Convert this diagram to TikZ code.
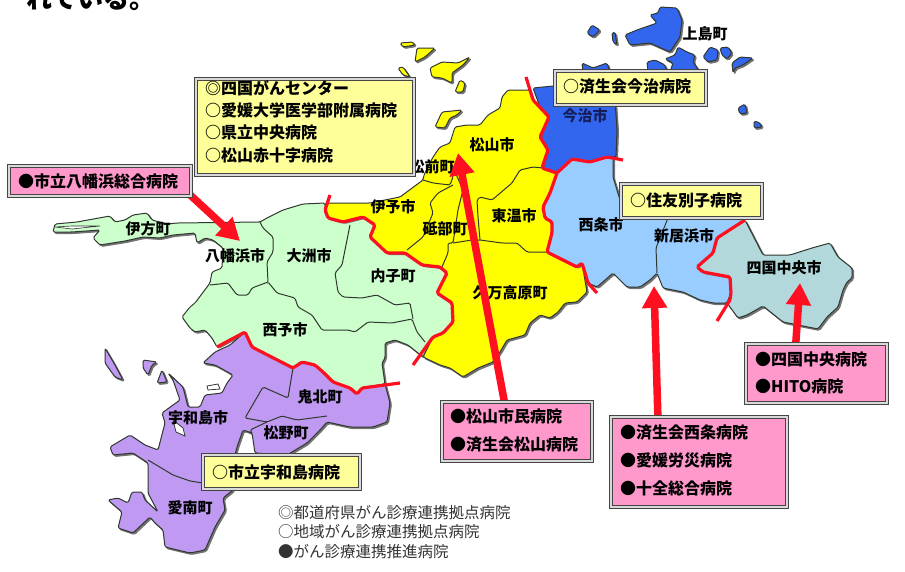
\documentclass[tikz,border=0pt]{standalone}
\usepackage{fontspec}
\setmainfont{Noto Sans CJK JP}
\usetikzlibrary{arrows.meta,calc}
\pgfdeclarelayer{mapl}\pgfdeclarelayer{arrowl}
\pgfsetlayers{mapl,arrowl,main}
\definecolor{cgreen}{HTML}{CCFFCC}
\definecolor{cyellow}{HTML}{FFFF00}
\definecolor{cblue}{HTML}{3366EE}
\definecolor{clight}{HTML}{99CCFF}
\definecolor{cteal}{HTML}{B2D8DC}
\definecolor{cpurple}{HTML}{BF99F2}
\definecolor{cpink}{HTML}{FF99CC}
\definecolor{cbox}{HTML}{FFFF99}
\definecolor{cred}{HTML}{FF1020}
\definecolor{cframe}{HTML}{454545}
\definecolor{cline}{HTML}{303830}
\tikzset{
  x=1pt,y=-1pt,
  land/.style={fill=#1,draw=cline,line width=1pt,line join=round,rounded corners=1.5pt},
  shade/.style={fill=black!55,draw=black!55,line width=1pt,shift={(1.5,1.5)},rounded corners=1.5pt},
  inner/.style={draw=cline,line width=1pt,line join=round,rounded corners=1.5pt},
  redline/.style={draw=cred,line width=3.2pt,line join=round,line cap=butt,rounded corners=1.5pt},
  hole/.style={fill=white,draw=cline,line width=.8pt},
  place/.style={font=\bfseries\fontsize{15}{15}\selectfont,inner sep=0pt},
  frame/.style={fill=#1,draw=cframe,line width=1.5pt,double=white!85!black,double distance=1.3pt,inner sep=0pt},
  boxtext/.style={anchor=west,align=left,inner sep=0pt,font=\bfseries\fontsize{16}{#1}\selectfont},
  legendtext/.style={anchor=west,inner sep=0pt,font=\fontsize{15.5}{15.5}\selectfont,text=black!80},
  callout/.style={cred,line width=7.5pt,-{Triangle[width=24pt,length=22pt]}},
}
\def\pgreen{(53,232) -- (55,224) -- (77,222) -- (110,216) -- (115,222) -- (125,220) -- (133,215) -- (147,213) -- (152,220) -- (167,224) -- (177,223) -- (260,222) -- (267,218) -- (283,210) -- (303,204) -- (325,203) -- (325,210) -- (328,218) -- (343,222) -- (363,217) -- (375,225) -- (370,237) -- (387,253) -- (405,253) -- (422,265) -- (440,267) -- (447,273) -- (437,293) -- (452,303) -- (453,322) -- (443,333) -- (433,337) -- (423,357) -- (408,345) -- (395,340) -- (385,343) -- (385,358) -- (382,363) -- (385,384) -- (362,388) -- (357,394) -- (350,388) -- (333,382) -- (323,372) -- (315,365) -- (302,362) -- (293,368) -- (252,347) -- (245,332) -- (217,347) -- (212,338) -- (205,330) -- (195,332) -- (190,328) -- (182,317) -- (190,307) -- (195,303) -- (210,283) -- (212,272) -- (222,268) -- (223,248) -- (213,240) -- (205,238) -- (197,243) -- (195,233) -- (173,235) -- (160,238) -- (143,237) -- (125,241) -- (100,245) -- (93,238) -- (100,230) -- (72,232) -- cycle}
\def\pyellow{(325,203) -- (370,203) -- (400,197) -- (423,180) -- (424,175) -- (433,157) -- (440,147) -- (450,143) -- (455,127) -- (467,125) -- (480,125) -- (488,115) -- (500,108) -- (502,97) -- (508,90) -- (530,90) -- (533,100) -- (549,117) -- (540,137) -- (548,150) -- (542,168) -- (557,173) -- (550,193) -- (543,207) -- (545,218) -- (552,222) -- (552,233) -- (547,252) -- (577,267) -- (582,263) -- (587,292) -- (577,302) -- (565,303) -- (558,312) -- (550,318) -- (540,315) -- (530,323) -- (525,335) -- (507,340) -- (500,352) -- (493,362) -- (478,368) -- (463,377) -- (450,368) -- (440,365) -- (423,357) -- (433,337) -- (443,333) -- (453,322) -- (452,303) -- (437,293) -- (447,273) -- (440,267) -- (422,265) -- (405,253) -- (387,253) -- (370,237) -- (375,225) -- (363,217) -- (343,222) -- (328,218) -- cycle}
\def\pblue{(533,88) -- (553,86) -- (600,85) -- (615,100) -- (617,130) -- (616,157) -- (607,157) -- (590,162) -- (572,159) -- (557,173) -- (542,168) -- (548,150) -- (540,137) -- (549,117) -- (540,107) -- cycle}
\def\plight{(557,173) -- (572,159) -- (590,162) -- (607,157) -- (613,157) -- (613,177) -- (620,200) -- (668,218) -- (720,218) -- (745,220) -- (717,238) -- (713,253) -- (697,267) -- (703,272) -- (730,277) -- (731,293) -- (727,303) -- (713,303) -- (700,300) -- (683,292) -- (663,288) -- (657,273) -- (650,280) -- (640,287) -- (627,287) -- (613,273) -- (597,287) -- (588,283) -- (582,263) -- (577,267) -- (547,252) -- (552,233) -- (552,222) -- (545,218) -- (543,207) -- (550,193) -- cycle}
\def\pteal{(745,220) -- (763,255) -- (790,255) -- (812,248) -- (830,243) -- (838,257) -- (852,268) -- (852,278) -- (847,282) -- (843,290) -- (838,307) -- (827,317) -- (818,329) -- (783,322) -- (763,306) -- (747,315) -- (738,318) -- (727,303) -- (731,293) -- (730,277) -- (703,272) -- (697,267) -- (713,253) -- (717,238) -- cycle}
\def\ppurple{(245,332) -- (252,347) -- (293,368) -- (302,362) -- (315,365) -- (323,372) -- (333,382) -- (350,388) -- (357,394) -- (362,388) -- (385,384) -- (390,403) -- (387,422) -- (373,427) -- (350,427) -- (327,422) -- (320,430) -- (307,443) -- (287,455) -- (255,453) -- (252,433) -- (243,430) -- (237,447) -- (235,455) -- (233,490) -- (223,498) -- (225,510) -- (215,527) -- (205,550) -- (190,553) -- (165,547) -- (163,530) -- (155,523) -- (150,517) -- (133,533) -- (118,528) -- (122,512) -- (108,500) -- (118,498) -- (128,503) -- (132,492) -- (142,492) -- (145,500) -- (158,512) -- (148,493) -- (148,463) -- (133,453) -- (113,455) -- (110,447) -- (130,435) -- (145,445) -- (158,450) -- (165,423) -- (162,413) -- (180,400) -- (173,380) -- (168,373) -- (183,387) -- (188,407) -- (200,407) -- (205,395) -- (222,393) -- (227,383) -- (233,375) -- (215,365) -- (203,363) -- (215,352) -- (230,345) -- cycle}
\newcommand{\island}[2]{\fill[shade] #2; \filldraw[land=#1] #2;}
\begin{document}
\begin{tikzpicture}
\useasboundingbox (0,0) rectangle (905,571);
\begin{pgfonlayer}{mapl}
  \fill[white] (0,0) rectangle (905,571);
  % cut-off line of text above the map
  \node[anchor=base west,inner sep=0pt,font=\bfseries\fontsize{26}{26}\selectfont] (caption) at (26,8) {れている。};
  % shadows and land
  \foreach \p/\c in {\pgreen/cgreen,\pyellow/cyellow,\pblue/cblue,\plight/clight,\pteal/cteal,\ppurple/cpurple}{
    \fill[shade] \p; \filldraw[land=\c] \p;
  }
  % yellow islands
  \island{cyellow}{(400,43) -- (413,42) -- (415,45) -- (403,47) -- cycle}
  \island{cyellow}{(417,48) -- (435,48) -- (425,57) -- (415,62) -- cycle}
  \island{cyellow}{(398,68) -- (403,67) -- (410,77) -- (403,75) -- cycle}
  \island{cyellow}{(430,68) -- (442,62) -- (458,63) -- (470,57) -- (463,65) -- (452,73) -- (452,83) -- (442,78) -- (432,77) -- cycle}
  \island{cyellow}{(455,92) -- (460,80) -- (465,83) -- (463,92) -- cycle}
  \island{cyellow}{(435,127) -- (442,112) -- (462,110) -- (457,115) -- (450,118) -- (445,128) -- cycle}
  % blue islands
  \island{cblue}{(660,7) -- (677,8) -- (682,20) -- (680,37) -- (670,52) -- (650,43) -- (630,45) -- (625,35) -- (637,30) -- (657,23) -- (650,15) -- (658,13) -- cycle}
  \island{cblue}{(678,47) -- (687,52) -- (695,55) -- (693,62) -- (700,72) -- (670,72) -- (673,63) -- (665,59) -- (675,55) -- cycle}
  \island{cblue}{(703,57) -- (710,47) -- (718,50) -- (717,60) -- (708,62) -- cycle}
  \island{cblue}{(720,48) -- (728,47) -- (732,53) -- (727,59) -- (722,55) -- cycle}
  \island{cblue}{(732,63) -- (740,57) -- (753,58) -- (743,65) -- (735,68) -- (733,73) -- cycle}
  \island{cblue}{(587,33) -- (592,25) -- (600,30) -- (593,37) -- cycle}
  \island{cblue}{(612,33) -- (615,32) -- (617,45) -- (613,42) -- cycle}
  \island{cblue}{(647,62) -- (655,60) -- (665,65) -- (667,72) -- (648,72) -- cycle}
  \island{cblue}{(582,63) -- (593,68) -- (607,63) -- (610,72) -- (583,72) -- cycle}
  \island{cblue}{(738,108) -- (745,104) -- (747,113) -- (740,114) -- cycle}
  \island{cblue}{(754,121) -- (760,123) -- (762,127) -- (754,128) -- cycle}
  % purple islands
  \island{cpurple}{(105,348) -- (115,365) -- (123,380) -- (115,377) -- (105,363) -- cycle}
  \island{cpurple}{(143,360) -- (157,362) -- (152,365) -- (148,375) -- (143,368) -- cycle}
  \island{cpurple}{(162,370) -- (167,382) -- (157,383) -- cycle}
  % inlets
  \filldraw[hole] (207,386) -- (218,384) -- (220,389) -- (208,390) -- cycle;
  \filldraw[hole] (173,420) -- (183,428) -- (185,436) -- (176,432) -- cycle;
  \filldraw[draw=cline,fill=white,line width=.6pt] (55,227) -- (72,226) -- (100,226) -- (72,229) -- cycle;
  % inner borders, green
  \draw[inner] (260,222) -- (263,228) -- (273,237) -- (273,252) -- (267,262) -- (268,282);
  \draw[inner] (210,285) -- (228,283) -- (237,295) -- (248,295) -- (252,288) -- (268,282) -- (277,293) -- (295,298) -- (298,307) -- (312,315) -- (322,330) -- (348,330) -- (355,332) -- (368,322) -- (392,323) -- (412,319) -- (417,332) -- (425,342);
  \draw[inner] (350,225) -- (342,265) -- (335,273) -- (338,292) -- (343,297) -- (362,298) -- (377,295) -- (395,305) -- (410,303) -- (413,319);
  % inner borders, yellow
  \draw[inner] (423,180) -- (433,183) -- (450,185) -- (453,177) -- (452,165);
  \draw[inner] (453,185) -- (438,193) -- (430,203) -- (433,213) -- (423,237) -- (407,250);
  \draw[inner] (452,165) -- (463,190) -- (458,210) -- (453,243) -- (448,243) -- (448,253) -- (442,267);
  \draw[inner] (453,243) -- (472,240) -- (480,240) -- (502,243) -- (517,243) -- (527,252) -- (547,252);
  \draw[inner] (480,240) -- (478,217) -- (477,200) -- (480,197) -- (492,200) -- (512,183) -- (520,170) -- (533,167) -- (543,168);
  % inner borders, light blue
  \draw[inner] (668,218) -- (656,248) -- (657,273);
  % inner borders, purple
  \draw[inner] (293,368) -- (288,398) -- (263,387) -- (245,418) -- (267,422) -- (282,416) -- (297,420) -- (327,416);
  \draw[inner] (267,422) -- (250,430) -- (252,433);
  \draw[inner] (148,460) -- (173,475) -- (190,481) -- (203,483);
  % prefecture-group borders in red
  \draw[redline] (330,195) -- (325,210) -- (328,218) -- (343,222) -- (363,217) -- (375,225) -- (370,237) -- (387,253) -- (405,253) -- (422,265) -- (440,267) -- (447,273) -- (437,293) -- (452,303) -- (453,322) -- (443,333) -- (433,337) -- (413,365);
  \draw[redline] (217,347) -- (245,332) -- (252,347) -- (293,368) -- (302,362) -- (315,365) -- (323,372) -- (333,382) -- (350,388) -- (357,394) -- (362,388) -- (400,383);
  \draw[redline] (526,77) -- (533,100) -- (549,117) -- (540,137) -- (548,150) -- (542,168) -- (557,173) -- (572,159) -- (590,162) -- (607,157) -- (623,160);
  \draw[redline] (557,173) -- (550,193) -- (543,207) -- (545,218) -- (552,222) -- (552,233) -- (547,252) -- (577,267) -- (582,263) -- (588,283) -- (597,293);
  \draw[redline] (745,220) -- (717,238) -- (713,253) -- (697,267) -- (703,272) -- (730,277) -- (731,293) -- (730,300) -- (717,321);
  % place names
  \node[place] (n1) at (705,34) {上島町};
  \node[place,text={rgb,255:red,20;green,30;blue,90}] (n2) at (585,116) {今治市};
  \node[place] (n3) at (492,145) {松山市};
  \node[place] (n4) at (148,229) {伊方町};
  \node[place] (n5) at (235,256) {八幡浜市};
  \node[place] (n6) at (309,256) {大洲市};
  \node[place] (n7) at (393,276) {内子町};
  \node[place] (n8) at (285,330) {西予市};
  \node[place] (n9) at (393,207) {伊予市};
  \node[place] (n10) at (432,167) {松前町};
  \node[place] (n11) at (445,229) {砥部町};
  \node[place] (n12) at (514,216) {東温市};
  \node[place] (n13) at (601,225) {西条市};
  \node[place] (n14) at (684,236) {新居浜市};
  \node[place] (n15) at (784,268) {四国中央市};
  \node[place] (n16) at (510,293) {久万高原町};
  \node[place] (n17) at (320,397) {鬼北町};
  \node[place] (n18) at (286,433) {松野町};
  \node[place] (n19) at (198,418) {宇和島市};
  \node[place] (n20) at (190,508) {愛南町};
\end{pgfonlayer}
% boxes
\node[frame=cbox,minimum width=218pt,minimum height=96pt] (bCancer) at (305,127) {};
\node[boxtext=22.2] at (205,121.5) {◎四国がんセンター\\○愛媛大学医学部附属病院\\○県立中央病院\\○松山赤十字病院};
\node[frame=cpink,minimum width=182pt,minimum height=30pt] (bYawata) at (100,181) {};
\node[boxtext=16] at (18,181.5) {●市立八幡浜総合病院};
\node[frame=cbox,minimum width=151pt,minimum height=34pt] (bImabari) at (630.5,88) {};
\node[boxtext=16] at (563,86.5) {○済生会今治病院};
\node[frame=cbox,minimum width=141pt,minimum height=34pt] (bSumi) at (691.5,201) {};
\node[boxtext=16] at (630,200) {○住友別子病院};
\node[frame=cbox,minimum width=157pt,minimum height=34pt] (bUwa) at (281.5,472) {};
\node[boxtext=16] at (212,472) {○市立宇和島病院};
\node[frame=cpink,minimum width=150pt,minimum height=59pt] (bMatsu) at (517,431.5) {};
\node[boxtext=27.3] at (450,430.5) {●松山市民病院\\●済生会松山病院};
\node[frame=cpink,minimum width=176pt,minimum height=90pt] (bSaijo) at (699,462) {};
\node[boxtext=28] at (620,460.5) {●済生会西条病院\\●愛媛労災病院\\●十全総合病院};
\node[frame=cpink,minimum width=141pt,minimum height=59pt] (bChuo) at (816.5,373.5) {};
\node[boxtext=27.3] at (755,373) {●四国中央病院\\●HITO病院};
% legend
\node[legendtext] (l1) at (278,513) {◎都道府県がん診療連携拠点病院};
\node[legendtext] (l2) at (278,532) {○地域がん診療連携拠点病院};
\node[legendtext] (l3) at (278,552) {●がん診療連携推進病院};
% arrows, tucked under the boxes
\begin{pgfonlayer}{arrowl}
  \coordinate (tipYawata) at (240,241);
  \coordinate (tipMatsu) at (458,153);
  \coordinate (tipSaijo) at (654,286);
  \coordinate (tipChuo) at (800,283);
  \draw[callout] ($(bYawata.south east)+(-4,-4)$) -- (tipYawata);
  \draw[callout] ($(bMatsu.north)+(-12,4)$) -- (tipMatsu);
  \draw[callout] ($(bSaijo.north)+(-41,4)$) -- (tipSaijo);
  \draw[callout] ($(bChuo.north)+(-21,4)$) -- (tipChuo);
\end{pgfonlayer}
\end{tikzpicture}
\end{document}
